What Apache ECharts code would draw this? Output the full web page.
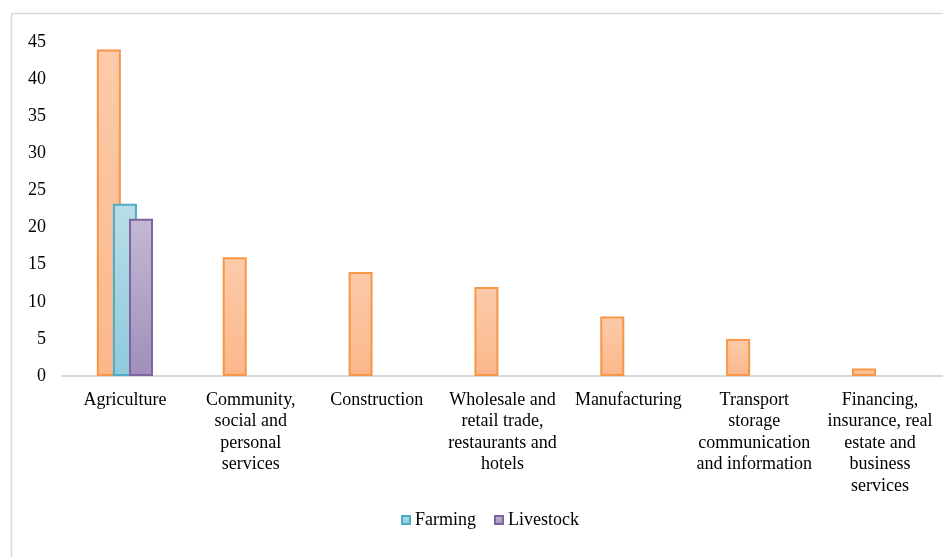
<!DOCTYPE html>
<html>
<head>
<meta charset="utf-8">
<script src="https://cdn.jsdelivr.net/npm/echarts@6/dist/echarts.min.js"></script>
<style>
  html, body { margin: 0; padding: 0; background: #fff; }
  #chart { width: 943px; height: 557px; }
</style>
</head>
<body>
<div id="chart"></div>
<script>
// 数据
var categories = [
  'Agriculture',
  'Community,\nsocial and\npersonal\nservices',
  'Construction',
  'Wholesale and\nretail trade,\nrestaurants and\nhotels',
  'Manufacturing',
  'Transport\nstorage\ncommunication\nand information',
  'Financing,\ninsurance, real\nestate and\nbusiness\nservices'
]
var sectorValues = [44, 16, 14, 12, 8, 5, 1]
var farmingValues = [23.2, '-', '-', '-', '-', '-', '-']
var livestockValues = [21.2, '-', '-', '-', '-', '-', '-']
var yTicks = [0, 5, 10, 15, 20, 25, 30, 35, 40, 45]

var fontFamily = '"Liberation Serif", "Times New Roman", serif'

function grad(top, bottom) {
  return new echarts.graphic.LinearGradient(0, 0, 0, 1, [
    { offset: 0, color: top },
    { offset: 1, color: bottom }
  ])
}

var myChart = echarts.init(document.getElementById('chart'))
myChart.setOption({
  animation: false,
  textStyle: { fontFamily: fontFamily },
  grid: {
    left: 62,
    top: 42,
    width: 886,
    bottom: 181
  },
  legend: {
    data: ['Farming', 'Livestock'],
    bottom: 23,
    left: 396,
    icon: 'rect',
    itemWidth: 8,
    itemHeight: 8,
    itemGap: 18,
    textStyle: { fontFamily: fontFamily, fontSize: 18, color: '#000' }
  },
  xAxis: {
    type: 'category',
    data: categories,
    axisLine: { lineStyle: { color: '#d9d9d9', width: 2 } },
    axisTick: { show: false },
    axisLabel: {
      interval: 0,
      margin: 13,
      color: '#000',
      fontSize: 18,
      lineHeight: 21.6,
      fontFamily: fontFamily,
      align: 'center'
    }
  },
  yAxis: {
    type: 'value',
    min: yTicks[0],
    max: yTicks[yTicks.length - 1],
    interval: 5,
    splitLine: { show: false },
    axisLine: { show: false },
    axisTick: { show: false },
    axisLabel: {
      color: '#000',
      fontSize: 18,
      margin: 16,
      fontFamily: fontFamily
    }
  },
  series: [
    {
      name: 'Sector',
      type: 'bar',
      barWidth: 24,
      barGap: '-33%',
      data: sectorValues,
      itemStyle: {
        color: grad('#fccbaa', '#fbb78a'),
        borderColor: '#f79646',
        borderWidth: 2
      }
    },
    {
      name: 'Farming',
      type: 'bar',
      barWidth: 24,
      barGap: '-33%',
      data: farmingValues,
      itemStyle: {
        color: grad('#b9dde9', '#8fcadb'),
        borderColor: '#4bacc6',
        borderWidth: 2
      }
    },
    {
      name: 'Livestock',
      type: 'bar',
      barWidth: 24,
      barGap: '-33%',
      data: livestockValues,
      itemStyle: {
        color: grad('#c3b8d3', '#a08fba'),
        borderColor: '#8064a2',
        borderWidth: 2
      }
    }
  ],
  graphic: [
    {
      type: 'rect',  // 外框
      left: 9,
      top: 11,
      shape: { width: 950, height: 560 },
      style: { fill: 'none', stroke: '#d9d9d9', lineWidth: 1.5 },
      z: -1
    }
  ]
})
</script>
</body>
</html>
